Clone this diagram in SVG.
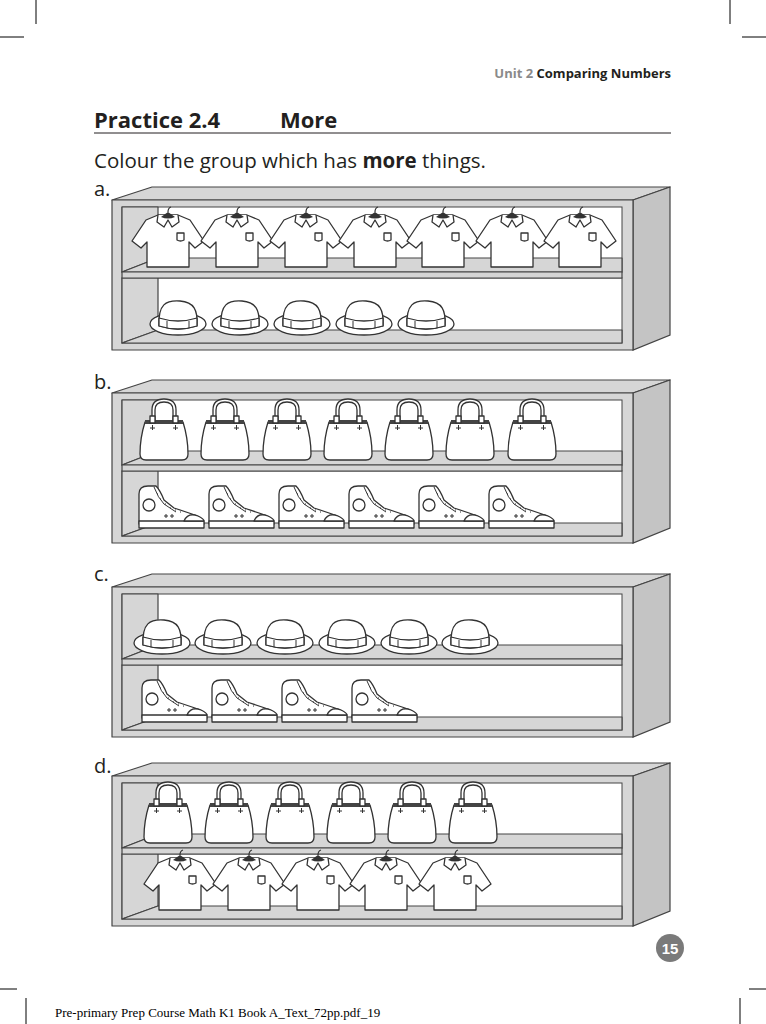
<svg xmlns="http://www.w3.org/2000/svg" xmlns:xlink="http://www.w3.org/1999/xlink" width="766" height="1024" viewBox="0 0 766 1024">
<style>
.ln{stroke:#333;stroke-width:1.3;fill:#fff;stroke-linejoin:round}
.g{fill:#d6d6d6;stroke:#444;stroke-width:1.2;stroke-linejoin:round}
.g2{fill:#c4c4c4;stroke:#444;stroke-width:1.2}
.f{font-family:"Open Sans","Liberation Sans",sans-serif;fill:#231f20}
.crop{stroke:#000;stroke-width:1}
</style>
<defs>
<g id="shelf">
<polygon class="g" points="112,0 152,-13 670,-13 633,0"/>
<polygon class="g2" points="633,0 670,-13 670,135 633,150"/>
<rect class="g" x="112" y="0" width="521" height="150"/>
<rect x="122" y="7" width="500" height="65" fill="#fff" stroke="#444" stroke-width="1"/>
<rect x="122" y="78" width="500" height="65" fill="#fff" stroke="#444" stroke-width="1"/>
<polygon class="g" points="122,7 158,7 158,58 122,72"/>
<polygon class="g" points="122,72 158,58 622,58 622,72"/>
<polygon class="g" points="122,78 158,78 158,130 122,143"/>
<polygon class="g" points="122,143 158,130 622,130 622,143"/>
<rect class="g" x="122" y="72" width="500" height="6"/>
</g>
<g id="shirt">
<path class="ln" d="M-10,-24 L-22,-19 L-36,2 L-27,9 L-21,3 L-21,28 L21,28 L21,3 L27,9 L36,2 L22,-19 L10,-24 Z"/>
<path class="ln" d="M-10,-24 L-11,-17 L-4,-12 L0,-19 L4,-12 L11,-17 L10,-24"/>
<path d="M-7,-22 L0,-27 L7,-22 Q0,-19 -7,-22 Z" fill="#333"/>
<path d="M0,-27 Q0,-31 3,-32" fill="none" stroke="#333" stroke-width="1.2"/>
<path class="ln" d="M9,-6 L16,-6 L16,1 Q12.5,3 9,1 Z"/>
</g>
<g id="hat">
<ellipse class="ln" cx="0" cy="6" rx="28" ry="11"/>
<path class="ln" d="M-19,8 C-20,-14 -12,-18 2,-17 C16,-16 20,-8 19,8 Q0,14 -19,8 Z"/>
<path class="ln" d="M-19,0 Q0,6 19,0 L19,8 Q0,14 -19,8 Z"/>
<path d="M-11,3 L-11,10 M11,3 L11,10" stroke="#333" stroke-width="1"/>
</g>
<g id="bag">
<path class="ln" d="M-12,-12 L-12,-24 Q-12,-35 0,-35 Q12,-35 12,-24 L12,-12" fill="none"/>
<path class="ln" d="M-9,-12 L-9,-24 Q-9,-32 0,-32 Q9,-32 9,-24 L9,-12" fill="none"/>
<path class="ln" d="M-19,-12 L19,-12 Q24,4 24,20 Q24,26 18,26 L-18,26 Q-24,26 -24,20 Q-24,4 -19,-12 Z"/>
<rect x="-19" y="-14" width="38" height="4" fill="#444"/>
<rect class="ln" x="-14" y="-18" width="5" height="7"/>
<rect class="ln" x="9" y="-18" width="5" height="7"/>
<path d="M-11.5,-9 v5 M-14,-6 h5 M11.5,-9 v5 M9,-6 h5" stroke="#333" stroke-width="1"/>
</g>
<g id="shoe">
<path class="ln" d="M-31,14 L-31,-14 Q-31,-22 -22,-22 L-14,-22 Q-10,-18 -6,-8 L4,0 L22,6 Q34,10 34,16 L-31,16 Z"/>
<path class="ln" d="M-31,13 L34,13 L34,20 L-31,20 Z"/>
<path class="ln" d="M14,13 Q18,4 28,8 Q34,11 34,13 Z"/>
<circle class="ln" cx="-21" cy="-3" r="6"/>
<path d="M-16,-21 Q-12,-10 -6,-4 L6,4" stroke="#333" stroke-width="1" fill="none"/>
<path d="M-13,-14 h1 M-10,-9 h1 M-5,-4 h1 M0,0 h1 M5,2 h1 M10,4 h1 M-4,6 v4 M-6,8 h4 M2,6 v4 M0,8 h4" stroke="#333" stroke-width="1"/>
</g>
</defs>
<rect width="766" height="1024" fill="#fff"/>
<g id="cropmarks" class="crop">
<line x1="36" y1="0" x2="36" y2="24"/><line x1="730" y1="0" x2="730" y2="24"/>
<line x1="0" y1="37" x2="24" y2="37"/><line x1="742" y1="37" x2="766" y2="37"/>
<line x1="0" y1="989" x2="17" y2="989"/><line x1="749" y1="989" x2="766" y2="989"/>
<line x1="26" y1="998" x2="26" y2="1024"/><line x1="740" y1="998" x2="740" y2="1024"/>
</g>
<text x="671" y="78" text-anchor="end" class="f" font-size="13" font-weight="bold"><tspan fill="#8a8a8a">Unit 2 </tspan>Comparing Numbers</text>
<text x="94" y="128" class="f" font-size="22" font-weight="bold">Practice 2.4</text>
<text x="280" y="128" class="f" font-size="22" font-weight="bold">More</text>
<line x1="94" y1="133" x2="671" y2="133" stroke="#231f20" stroke-width="1"/>
<text x="94" y="168" class="f" font-size="20.5">Colour the group which has <tspan font-weight="bold">more</tspan> things.</text>
<text x="94" y="196" class="f" font-size="20">a.</text>
<text x="94" y="389" class="f" font-size="20">b.</text>
<text x="94" y="581" class="f" font-size="20">c.</text>
<text x="94" y="773" class="f" font-size="20">d.</text>

<g id="shelf-a">
<use xlink:href="#shelf" y="200"/>
<use xlink:href="#shirt" x="168" y="239"/><use xlink:href="#shirt" x="237" y="239"/><use xlink:href="#shirt" x="306" y="239"/><use xlink:href="#shirt" x="375" y="239"/><use xlink:href="#shirt" x="443" y="239"/><use xlink:href="#shirt" x="512" y="239"/><use xlink:href="#shirt" x="580" y="239"/>
<use xlink:href="#hat" x="178" y="318"/><use xlink:href="#hat" x="240" y="318"/><use xlink:href="#hat" x="302" y="318"/><use xlink:href="#hat" x="364" y="318"/><use xlink:href="#hat" x="426" y="318"/>
</g>
<g id="shelf-b">
<use xlink:href="#shelf" y="393"/>
<use xlink:href="#bag" x="164" y="434"/><use xlink:href="#bag" x="225" y="434"/><use xlink:href="#bag" x="287" y="434"/><use xlink:href="#bag" x="348" y="434"/><use xlink:href="#bag" x="409" y="434"/><use xlink:href="#bag" x="470" y="434"/><use xlink:href="#bag" x="532" y="434"/>
<use xlink:href="#shoe" x="170" y="508"/><use xlink:href="#shoe" x="240" y="508"/><use xlink:href="#shoe" x="310" y="508"/><use xlink:href="#shoe" x="380" y="508"/><use xlink:href="#shoe" x="450" y="508"/><use xlink:href="#shoe" x="520" y="508"/>
</g>
<g id="shelf-c">
<use xlink:href="#shelf" y="587"/>
<use xlink:href="#hat" x="162" y="637"/><use xlink:href="#hat" x="223" y="637"/><use xlink:href="#hat" x="285" y="637"/><use xlink:href="#hat" x="347" y="637"/><use xlink:href="#hat" x="409" y="637"/><use xlink:href="#hat" x="470" y="637"/>
<use xlink:href="#shoe" x="173" y="702"/><use xlink:href="#shoe" x="243" y="702"/><use xlink:href="#shoe" x="313" y="702"/><use xlink:href="#shoe" x="383" y="702"/>
</g>
<g id="shelf-d">
<use xlink:href="#shelf" y="776"/>
<use xlink:href="#bag" x="168" y="817"/><use xlink:href="#bag" x="229" y="817"/><use xlink:href="#bag" x="290" y="817"/><use xlink:href="#bag" x="351" y="817"/><use xlink:href="#bag" x="412" y="817"/><use xlink:href="#bag" x="473" y="817"/>
<use xlink:href="#shirt" x="180" y="882"/><use xlink:href="#shirt" x="249" y="882"/><use xlink:href="#shirt" x="318" y="882"/><use xlink:href="#shirt" x="386" y="882"/><use xlink:href="#shirt" x="455" y="882"/>
</g>
<circle cx="670" cy="948" r="14" fill="#7a7a7a"/>
<text x="670" y="954" text-anchor="middle" font-family="'Liberation Sans',sans-serif" font-size="15" font-weight="bold" fill="#fff">15</text>
<text x="55" y="1017" font-family="'Liberation Serif',serif" font-size="13" fill="#000">Pre-primary Prep Course Math K1 Book A_Text_72pp.pdf_19</text>
</svg>
